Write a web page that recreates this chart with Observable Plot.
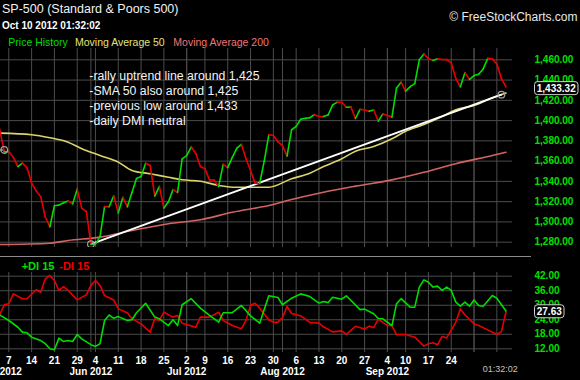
<!DOCTYPE html>
<html><head><meta charset="utf-8">
<script src="https://cdn.jsdelivr.net/npm/d3@7"></script>
<script src="https://cdn.jsdelivr.net/npm/@observablehq/plot@0.6"></script>
<style>
html,body{margin:0;padding:0;background:#000;}
#wrap{position:relative;width:580px;height:380px;background:#000;overflow:hidden;font-family:"Liberation Sans",Arial,sans-serif;}
.abs{position:absolute;white-space:nowrap;}
#price{position:absolute;left:0;top:48px;}
#di{position:absolute;left:0;top:264px;}
</style></head>
<body><div id="wrap">
<div class="abs" style="left:2px;top:1px;font-size:12.5px;line-height:16px;color:#f2f2f2">SP-500 (Standard &amp; Poors 500)</div>
<div class="abs" style="left:2px;top:19.5px;font-size:10px;line-height:12px;font-weight:bold;color:#fff">Oct 10 2012 01:32:02</div>
<div class="abs" style="right:2.5px;top:9.5px;font-size:12px;line-height:15px;color:#e8e8e8">© FreeStockCharts.com</div>
<div class="abs" style="left:8.3px;top:36.3px;font-size:10.5px;line-height:12px;color:#00dd00">Price History</div>
<div class="abs" style="left:75px;top:36.3px;font-size:10.5px;line-height:12px;color:#e4e47a">Moving Average 50</div>
<div class="abs" style="left:173.3px;top:36.3px;font-size:10.5px;line-height:12px;color:#f07474">Moving Average 200</div>
<div id="price"></div>
<div class="abs" style="left:89.3px;top:68.6px;font-size:12.3px;line-height:15.3px;color:#f4f4f4">-rally uptrend line around 1,425<br>-SMA 50 also around 1,425<br>-previous low around 1,433<br>-daily DMI neutral</div>
<div class="abs" style="left:0;top:256px;width:531px;height:1px;background:#8c8c8c"></div>
<div class="abs" style="left:21.7px;top:259.5px;font-size:11px;line-height:13px;font-weight:bold;color:#00e000">+DI 15</div>
<div class="abs" style="left:59.3px;top:259.5px;font-size:11px;line-height:13px;font-weight:bold;color:#ee0000">-DI 15</div>
<div id="di"></div>
<div class="abs" style="left:482.7px;top:364px;font-size:9px;line-height:11px;color:#c4c4c4">01:32:02</div>
</div>
<script>
// ---- data ----
const dates = [
"2012-05-03","2012-05-04","2012-05-07","2012-05-08","2012-05-09","2012-05-10","2012-05-11","2012-05-14","2012-05-15","2012-05-16","2012-05-17","2012-05-18","2012-05-21","2012-05-22","2012-05-23","2012-05-24","2012-05-25","2012-05-29","2012-05-30","2012-05-31",
"2012-06-01","2012-06-04","2012-06-05","2012-06-06","2012-06-07","2012-06-08","2012-06-11","2012-06-12","2012-06-13","2012-06-14","2012-06-15","2012-06-18","2012-06-19","2012-06-20","2012-06-21","2012-06-22","2012-06-25","2012-06-26","2012-06-27","2012-06-28","2012-06-29",
"2012-07-02","2012-07-03","2012-07-05","2012-07-06","2012-07-09","2012-07-10","2012-07-11","2012-07-12","2012-07-13","2012-07-16","2012-07-17","2012-07-18","2012-07-19","2012-07-20","2012-07-23","2012-07-24","2012-07-25","2012-07-26","2012-07-27","2012-07-30","2012-07-31",
"2012-08-01","2012-08-02","2012-08-03","2012-08-06","2012-08-07","2012-08-08","2012-08-09","2012-08-10","2012-08-13","2012-08-14","2012-08-15","2012-08-16","2012-08-17","2012-08-20","2012-08-21","2012-08-22","2012-08-23","2012-08-24","2012-08-27","2012-08-28","2012-08-29","2012-08-30","2012-08-31",
"2012-09-04","2012-09-05","2012-09-06","2012-09-07","2012-09-10","2012-09-11","2012-09-12","2012-09-13","2012-09-14","2012-09-17","2012-09-18","2012-09-19","2012-09-20","2012-09-21","2012-09-24","2012-09-25","2012-09-26","2012-09-27","2012-09-28",
"2012-10-01","2012-10-02","2012-10-03","2012-10-04","2012-10-05","2012-10-08","2012-10-09","2012-10-10"];
const close = [
1391.57,1369.10,1369.58,1363.72,1354.58,1357.99,1353.39,1338.35,1330.66,1324.80,1304.86,1295.22,1315.99,1316.63,1318.86,1320.68,1317.82,1332.42,1313.32,1310.33,
1278.04,1278.18,1285.50,1315.13,1314.99,1325.66,1308.93,1324.18,1314.88,1329.10,1342.84,1344.78,1357.98,1355.69,1325.51,1335.02,1313.72,1319.99,1331.85,1329.04,1362.16,
1365.51,1374.02,1367.58,1354.68,1352.46,1341.47,1341.45,1334.76,1356.78,1353.64,1363.67,1372.78,1376.51,1362.66,1350.52,1338.31,1337.89,1360.02,1385.97,1385.30,1379.32,
1375.32,1365.00,1390.99,1394.23,1401.35,1402.22,1402.80,1405.87,1404.11,1403.93,1405.53,1415.51,1418.16,1418.13,1413.17,1413.49,1402.08,1411.13,1410.44,1409.30,1410.49,1399.48,1406.58,
1404.94,1403.44,1432.12,1437.92,1429.08,1433.56,1436.56,1459.99,1465.77,1461.19,1459.32,1461.05,1460.26,1460.15,1456.89,1441.59,1433.32,1447.15,1440.67,
1444.49,1445.75,1450.99,1461.40,1460.93,1455.88,1441.48,1433.32];

const ma50Dates = ["2012-05-03","2012-05-14","2012-05-18","2012-05-24","2012-05-30","2012-06-05","2012-06-11","2012-06-14","2012-06-20","2012-06-26","2012-06-29","2012-07-06","2012-07-12","2012-07-17","2012-07-23","2012-07-27","2012-08-03","2012-08-09","2012-08-14","2012-08-20","2012-08-23","2012-08-29","2012-09-05","2012-09-10","2012-09-14","2012-09-20","2012-09-25","2012-10-01","2012-10-05","2012-10-10"];
const ma50 = [1387.6,1386.0,1383.0,1378.7,1372.2,1365.6,1359.0,1350.8,1347.5,1344.1,1341.6,1340.2,1336.0,1334.3,1334.3,1334.3,1342.6,1348.1,1354.7,1362.3,1369.8,1374.4,1382.0,1389.5,1396.1,1404.0,1410.7,1414.9,1422.5,1427.2];

const ma200Dates = ["2012-05-03","2012-05-18","2012-05-24","2012-06-05","2012-06-14","2012-06-26","2012-07-06","2012-07-17","2012-07-27","2012-08-03","2012-08-14","2012-08-23","2012-09-05","2012-09-14","2012-09-25","2012-10-05","2012-10-10"];
const ma200 = [1277.7,1279.0,1281.7,1285.0,1291.5,1298.2,1302.1,1309.6,1316.2,1322.1,1329.3,1335.3,1341.5,1349.0,1357.5,1365.6,1368.8];

const plusDiDates = ["2012-05-03","2012-05-07","2012-05-09","2012-05-10","2012-05-11","2012-05-14","2012-05-16","2012-05-17","2012-05-18","2012-05-21","2012-05-22","2012-05-23","2012-05-24","2012-05-25","2012-05-29","2012-05-30","2012-06-01","2012-06-04","2012-06-05","2012-06-06","2012-06-07","2012-06-08","2012-06-11","2012-06-13","2012-06-14","2012-06-15","2012-06-19","2012-06-21","2012-06-22","2012-06-26","2012-06-27","2012-06-28","2012-06-29","2012-07-03","2012-07-06","2012-07-10","2012-07-12","2012-07-13","2012-07-17","2012-07-19","2012-07-23","2012-07-25","2012-07-27","2012-07-31","2012-08-01","2012-08-03","2012-08-07","2012-08-09","2012-08-13","2012-08-14","2012-08-15","2012-08-16","2012-08-20","2012-08-21","2012-08-24","2012-08-27","2012-08-29","2012-08-30","2012-08-31","2012-09-05","2012-09-06","2012-09-07","2012-09-11","2012-09-12","2012-09-13","2012-09-14","2012-09-17","2012-09-18","2012-09-19","2012-09-20","2012-09-21","2012-09-24","2012-09-25","2012-09-26","2012-09-27","2012-09-28","2012-10-01","2012-10-02","2012-10-03","2012-10-05","2012-10-08","2012-10-10"];
const plusDi = [26.0,23.7,20.9,18.9,18.6,16.8,15.4,14.1,12.0,11.6,16.4,15.0,15.4,15.0,17.9,16.1,13.7,13.0,14.1,23.7,26.0,24.6,25.3,23.7,24.0,26.9,30.8,25.1,24.4,21.6,24.0,21.6,30.2,32.7,28.8,25.8,23.0,26.9,26.9,29.9,25.6,22.6,33.9,33.2,30.2,32.9,34.7,33.6,30.9,31.5,31.1,33.3,32.5,33.9,28.2,28.4,26.5,24.5,24.4,21.6,30.6,32.7,29.2,29.2,37.5,40.5,39.5,37.5,37.9,36.1,37.5,36.1,31.3,29.6,31.3,29.6,32.2,29.9,29.6,34.0,32.9,27.63];

const minusDiDates = ["2012-05-03","2012-05-04","2012-05-07","2012-05-08","2012-05-10","2012-05-11","2012-05-15","2012-05-16","2012-05-17","2012-05-18","2012-05-21","2012-05-22","2012-05-23","2012-05-24","2012-05-29","2012-05-31","2012-06-01","2012-06-04","2012-06-05","2012-06-06","2012-06-08","2012-06-11","2012-06-13","2012-06-14","2012-06-18","2012-06-20","2012-06-21","2012-06-22","2012-06-25","2012-06-27","2012-06-28","2012-06-29","2012-07-05","2012-07-06","2012-07-10","2012-07-12","2012-07-13","2012-07-17","2012-07-19","2012-07-20","2012-07-23","2012-07-24","2012-07-25","2012-07-27","2012-07-30","2012-07-31","2012-08-01","2012-08-02","2012-08-03","2012-08-07","2012-08-09","2012-08-13","2012-08-14","2012-08-16","2012-08-20","2012-08-21","2012-08-23","2012-08-27","2012-08-28","2012-08-29","2012-08-30","2012-09-04","2012-09-05","2012-09-06","2012-09-10","2012-09-12","2012-09-14","2012-09-17","2012-09-18","2012-09-19","2012-09-20","2012-09-21","2012-09-25","2012-09-26","2012-09-27","2012-10-01","2012-10-02","2012-10-05","2012-10-08","2012-10-09","2012-10-10"];
const minusDi = [26.0,30.2,30.6,34.7,32.7,32.7,36.4,35.4,40.9,42.3,40.2,36.1,37.7,36.1,32.2,34.3,38.2,40.2,38.2,34.0,32.2,28.5,26.9,24.4,22.3,18.9,24.4,23.7,27.1,25.1,25.8,22.6,20.9,25.1,25.1,27.1,23.7,21.6,20.3,23.7,30.0,30.8,28.8,24.0,23.0,23.0,24.9,29.5,26.6,25.6,22.9,22.6,21.1,19.0,19.4,18.0,21.3,20.2,21.4,20.7,24.3,21.6,21.6,17.9,17.9,16.8,13.1,14.1,14.5,13.7,17.1,16.5,23.0,28.5,26.0,22.3,21.6,18.9,17.9,19.1,27.2];

// drawn objects: uptrend line and another line anchored off the left edge
const trendDates = ["2012-06-01","2012-10-09"];
const trendValues = [1278.04,1425.6];
const stubDates = ["2012-05-03","2012-05-04"];
const stubValues = [1371.0,1371.0];

const priceTicks = [1280,1300,1320,1340,1360,1380,1400,1420,1440,1460];
const diTicks = [12,18,24,30,36,42];
const weekDates = ["2012-05-07","2012-05-14","2012-05-21","2012-05-29","2012-06-04","2012-06-11","2012-06-18","2012-06-25","2012-07-02","2012-07-09","2012-07-16","2012-07-23","2012-07-30","2012-08-06","2012-08-13","2012-08-20","2012-08-27","2012-09-04","2012-09-10","2012-09-17","2012-09-24","2012-10-01","2012-10-08"];
const dayLabels = ["7","14","21","29","4","11","18","25","2","9","16","23","30","6","13","20","27","4","10","17","24"];
const monthLineDates = ["2012-06-01","2012-07-02","2012-08-01","2012-09-04","2012-10-01"];
const monthLabelDates = ["2012-05-03","2012-06-01","2012-07-02","2012-08-01","2012-09-04"];
const monthLabels = ["May 2012","Jun 2012","Jul 2012","Aug 2012","Sep 2012"];

// ---- styles ----
const GRID = "#4c4c4c", UP = "#00dd00", DOWN = "#e80000", AXG = "#00e000";
const FONT = "Liberation Sans, Arial, sans-serif";
const idx = new Map(dates.map((d, i) => [d, i]));
const X = d => idx.get(d);
const xDomain = [0.18, 112.43];

const pts = (ds, vs) => ds.map((d, k) => ({x: X(d), y: vs[k]}));
const segs = close.slice(1).map((v, k) => ({x1: k, y1: close[k], x2: k + 1, y2: v, c: v >= close[k] ? UP : DOWN}));
const weekX = weekDates.map(X), monthX = monthLineDates.map(X);

const price = Plot.plot({
  width: 580, height: 199, marginTop: 0, marginBottom: 0, marginLeft: 0, marginRight: 68,
  x: {domain: xDomain, axis: null},
  y: {domain: [1274.77, 1471.15], axis: null},
  color: {type: "identity"},
  style: {background: "#000", color: "#fff"},
  marks: [
    Plot.ruleY(priceTicks, {stroke: GRID, strokeWidth: 1}),
    Plot.ruleX(weekX, {stroke: GRID, strokeWidth: 1}),
    Plot.ruleX(monthX, {stroke: GRID, strokeWidth: 1}),
    Plot.line(pts(ma200Dates, ma200), {x: "x", y: "y", stroke: "#d26464", strokeWidth: 1.6, curve: "monotone-x", clip: true}),
    Plot.line(pts(ma50Dates, ma50), {x: "x", y: "y", stroke: "#dcd46c", strokeWidth: 1.6, curve: "monotone-x", clip: true}),
    Plot.line(pts(stubDates, stubValues), {x: "x", y: "y", stroke: "#dddddd", strokeWidth: 1.2, clip: true}),
    Plot.line(pts(trendDates, trendValues), {x: "x", y: "y", stroke: "#ffffff", strokeWidth: 1.8, clip: true}),
    Plot.link(segs, {x1: "x1", y1: "y1", x2: "x2", y2: "y2", stroke: "c", strokeWidth: 1.6, strokeLinecap: "round", clip: true}),
    Plot.dot(pts(trendDates.concat(stubDates.slice(1)), trendValues.concat(stubValues.slice(1))), {x: "x", y: "y", r: 3.3, stroke: "#a0a0a0", strokeWidth: 1.2, fill: "none"}),
    Plot.text(priceTicks, {y: d => d, text: d => d3.format(",.2f")(d), frameAnchor: "right", dx: 22, textAnchor: "start", fill: AXG, fontWeight: "bold", fontSize: 10, fontFamily: FONT})
  ]
});
document.getElementById("price").appendChild(price);

const di = Plot.plot({
  width: 580, height: 116, marginTop: 8, marginBottom: 28, marginLeft: 0, marginRight: 68,
  x: {domain: xDomain, axis: null},
  y: {domain: [10.47, 43.53], axis: null},
  style: {background: "transparent", color: "#fff"},
  marks: [
    Plot.ruleY(diTicks, {stroke: GRID, strokeWidth: 1}),
    Plot.ruleX(weekX, {stroke: GRID, strokeWidth: 1}),
    Plot.ruleX(monthX, {stroke: GRID, strokeWidth: 1}),
    Plot.line(pts(minusDiDates, minusDi), {x: "x", y: "y", stroke: DOWN, strokeWidth: 1.6, clip: true}),
    Plot.line(pts(plusDiDates, plusDi), {x: "x", y: "y", stroke: UP, strokeWidth: 1.6, clip: true}),
    Plot.text(diTicks, {y: d => d, text: d => d3.format(".2f")(d), frameAnchor: "right", dx: 22, textAnchor: "start", fill: AXG, fontWeight: "bold", fontSize: 10, fontFamily: FONT}),
    Plot.text(weekX.slice(0, dayLabels.length), {x: d => d, text: (d, k) => dayLabels[k], frameAnchor: "bottom", dy: 11.7, fill: "#fff", fontWeight: "bold", fontSize: 10, fontFamily: FONT}),
    Plot.text(monthLabelDates.map(X), {x: d => d, text: (d, k) => monthLabels[k], frameAnchor: "bottom", dy: 22, fill: "#fff", fontWeight: "bold", fontSize: 10, fontFamily: FONT})
  ]
});
document.getElementById("di").appendChild(di);

// last-value tags, positioned with the charts' own y scales
function tag(svg, yPix, txt, w) {
  const g = d3.select(svg).append("g");
  g.append("rect").attr("x", 534.5).attr("y", yPix - 6.5).attr("width", w).attr("height", 13).attr("rx", 3)
    .attr("fill", "#000").attr("stroke", "#d0d0d0").attr("stroke-width", 1);
  g.append("text").attr("x", 534.5 + w / 2).attr("y", yPix).attr("dy", "0.34em").attr("text-anchor", "middle")
    .attr("fill", "#fff").attr("font-weight", "bold").attr("font-size", 10).attr("font-family", FONT).text(txt);
}
tag(price, price.scale("y").apply(close[close.length - 1]) + 1.8, d3.format(",.2f")(close[close.length - 1]), 43.5);
tag(di, di.scale("y").apply(plusDi[plusDi.length - 1]) + 0.8, d3.format(".2f")(plusDi[plusDi.length - 1]), 29.5);
</script>
</body></html>
